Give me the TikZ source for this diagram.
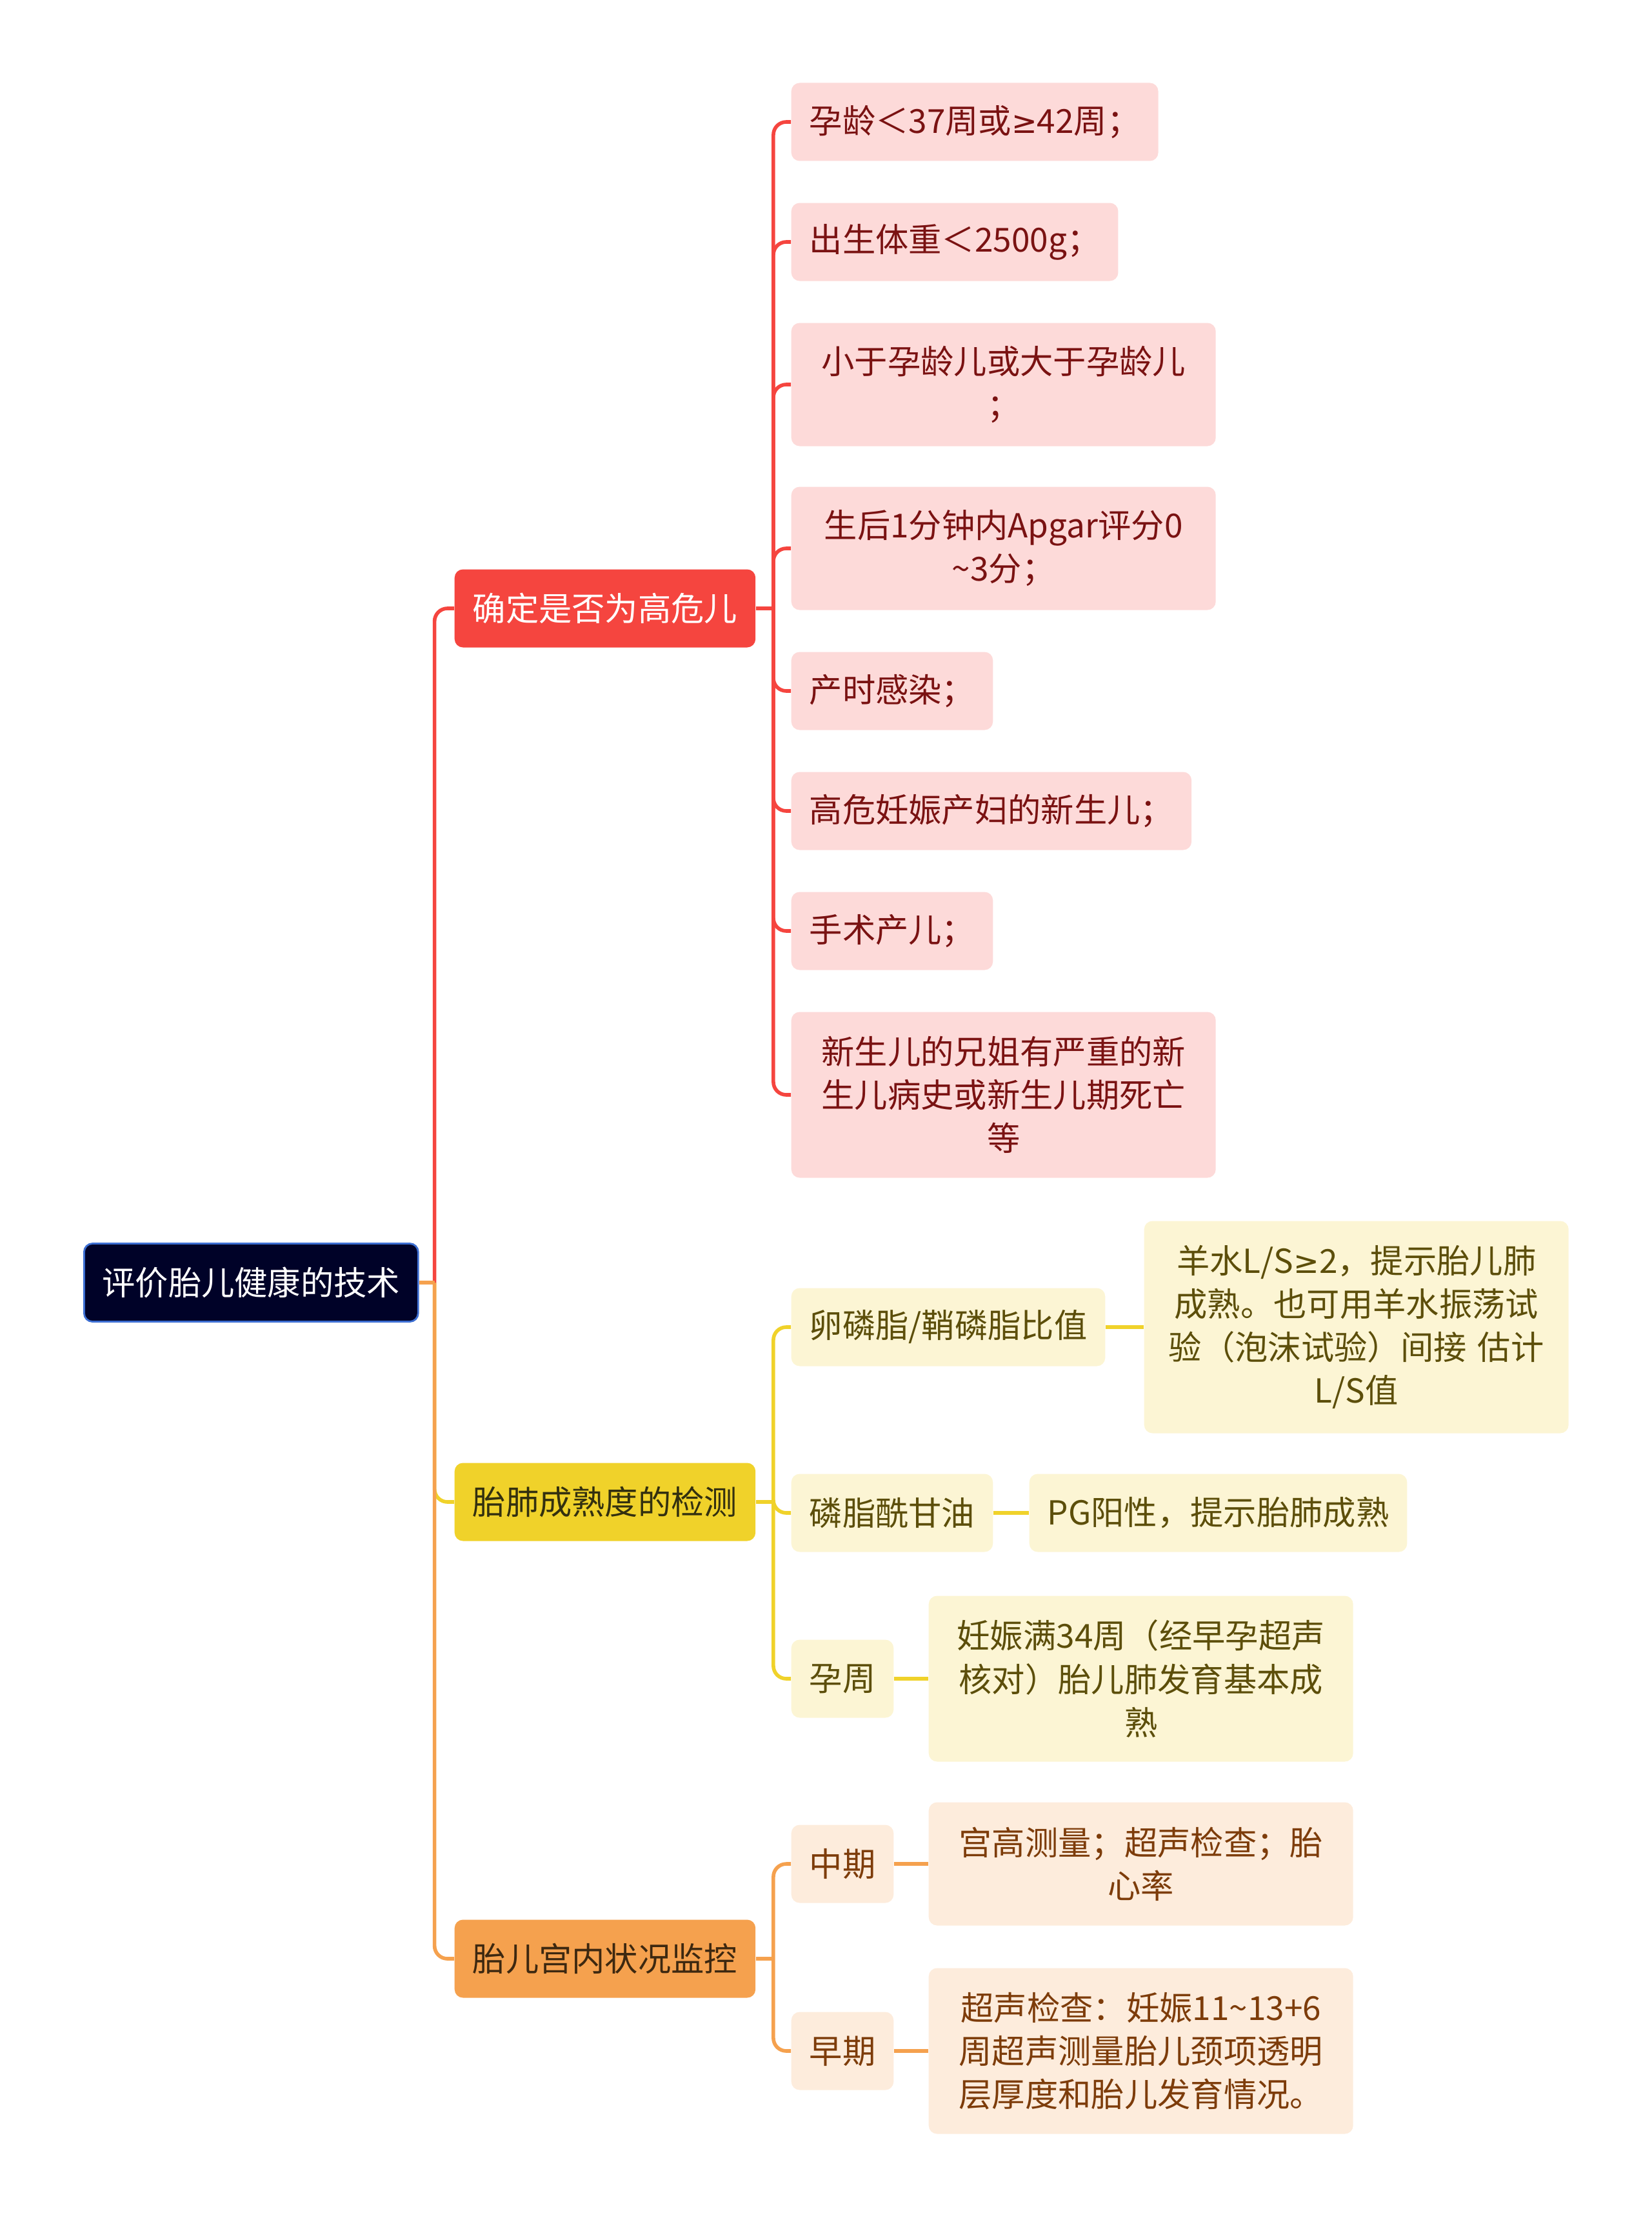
\documentclass[tikz,border=0pt]{standalone}
\usepackage{fontspec}
\setmainfont{Noto Sans CJK SC}
\newfontfamily\geqfont{DejaVu Sans}
\usepackage{xcolor}
\usepackage{tikz}
\usetikzlibrary{
  positioning
}
\definecolor{rootfill}{HTML}{000228}
\definecolor{rootline}{HTML}{3C6ED2}
\definecolor{redmain}{HTML}{F5453F}
\definecolor{redsoft}{HTML}{FDDAD9}
\definecolor{redtext}{HTML}{7A1212}
\definecolor{yelmain}{HTML}{F0D22A}
\definecolor{yelsoft}{HTML}{FCF5D4}
\definecolor{yeltext}{HTML}{5C4E0A}
\definecolor{yeltopic}{HTML}{33300F}
\definecolor{orgmain}{HTML}{F5A14E}
\definecolor{orgsoft}{HTML}{FDECDC}
\definecolor{orgtext}{HTML}{7D3C0A}
\definecolor{orgtopic}{HTML}{3D2810}
\newcommand{\mapfont}{\fontsize{14.6}{19.1}\selectfont}
\newcommand{\mapgeq}{{\geqfont\fontsize{13.5}{19.1}\selectfont ≥}}
\tikzset{
  mapbox/.style={rectangle,rounded corners=1.3mm,align=center,anchor=west,inner xsep=2.8mm,inner ysep=0pt,minimum height=12.1mm},
  rootbox/.style={mapbox,fill=rootfill,draw=rootline,line width=0.8pt,text=white},
  topicr/.style={mapbox,fill=redmain,text=white},
  topicy/.style={mapbox,fill=yelmain,text=yeltopic},
  topico/.style={mapbox,fill=orgmain,text=orgtopic},
  leafr/.style={mapbox,fill=redsoft,text=redtext},
  leafy/.style={mapbox,fill=yelsoft,text=yeltext},
  leafo/.style={mapbox,fill=orgsoft,text=orgtext},
  wide/.style={text width=6.02cm},
  twolines/.style={minimum height=19.1mm},
  threelines/.style={minimum height=25.7mm},
  fourlines/.style={minimum height=32.9mm},
  branch/.style={line width=1.6pt,rounded corners=2mm}
}

\begin{document}
\begin{tikzpicture}[font=\mapfont]
    \useasboundingbox (0,0) rectangle (25.6,-34.41);

    % Tema central
    \node[rootbox] (root) at (1.29,-19.88) {评价胎儿健康的技术};

    % Ramas principales
    \node[topicr] (tr) at (7.04,-9.43) {确定是否为高危儿};
    \node[topicy] (ty) at (7.04,-23.28) {胎肺成熟度的检测};
    \node[topico] (to) at (7.04,-30.36) {胎儿宫内状况监控};

    % Hojas de la rama roja
    \node[leafr] (r1) at (12.26,-1.89) {孕龄＜37周或\mapgeq42周；};
    \node[leafr] (r2) at (12.26,-3.75) {出生体重＜2500g；};
    \node[leafr,wide,twolines] (r3) at (12.26,-5.96) {小于孕龄儿或大于孕龄儿\\；};
    \node[leafr,wide,twolines] (r4) at (12.26,-8.50) {生后1分钟内Apgar评分0\\\textasciitilde3分；};
    \node[leafr] (r5) at (12.26,-10.71) {产时感染；};
    \node[leafr] (r6) at (12.26,-12.57) {高危妊娠产妇的新生儿；};
    \node[leafr] (r7) at (12.26,-14.43) {手术产儿；};
    \node[leafr,wide,threelines] (r8) at (12.26,-16.97) {新生儿的兄姐有严重的新\\生儿病史或新生儿期死亡\\等};

    % Hojas de la rama amarilla
    \node[leafy] (y1) at (12.26,-20.57) {卵磷脂/鞘磷脂比值};
    \node[leafy,wide,fourlines] (y1a) at (17.73,-20.57) {羊水L/S\mapgeq2，提示胎儿肺\\成熟。也可用羊水振荡试\\验（泡沫试验）间接 估计\\L/S值};
    \node[leafy] (y2) at (12.26,-23.45) {磷脂酰甘油};
    \node[leafy] (y2a) at (15.95,-23.45) {PG阳性，提示胎肺成熟};
    \node[leafy] (y3) at (12.26,-26.02) {孕周};
    \node[leafy,wide,threelines] (y3a) at (14.39,-26.02) {妊娠满34周（经早孕超声\\核对）胎儿肺发育基本成\\熟};

    % Hojas de la rama naranja
    \node[leafo] (o1) at (12.26,-28.89) {中期};
    \node[leafo,wide,twolines] (o1a) at (14.39,-28.89) {宫高测量；超声检查；胎\\心率};
    \node[leafo] (o2) at (12.26,-31.79) {早期};
    \node[leafo,wide,threelines] (o2a) at (14.39,-31.79) {超声检查：妊娠11\textasciitilde13+6\\周超声测量胎儿颈项透明\\层厚度和胎儿发育情况。};

    % Puntos de bifurcacion
    \coordinate[right=0.24cm of root] (j0);
    \coordinate[right=0.27cm of tr] (jr);
    \coordinate[right=0.27cm of ty] (jy);
    \coordinate[right=0.27cm of to] (jo);

    % Conexiones
    \draw[branch,yelmain] (j0) |- (ty.west);
    \draw[branch,orgmain] (j0) |- (to.west);
    \draw[branch,redmain] (j0) |- (tr.west);
    \draw[branch,orgmain] (root.east) -- (j0);

    \foreach \c in {r1,r2,r3,r4,r5,r6,r7,r8} \draw[branch,redmain] (jr) |- (\c.west);
    \draw[branch,redmain] (tr.east) -- (jr);
    \foreach \c in {y1,y2,y3} \draw[branch,yelmain] (jy) |- (\c.west);
    \draw[branch,yelmain] (ty.east) -- (jy);
    \foreach \c in {o1,o2} \draw[branch,orgmain] (jo) |- (\c.west);
    \draw[branch,orgmain] (to.east) -- (jo);

    \foreach \a/\b in {y1/y1a,y2/y2a,y3/y3a} \draw[branch,yelmain] (\a.east) -- (\b.west);
    \foreach \a/\b in {o1/o1a,o2/o2a} \draw[branch,orgmain] (\a.east) -- (\b.west);
\end{tikzpicture}
\end{document}
